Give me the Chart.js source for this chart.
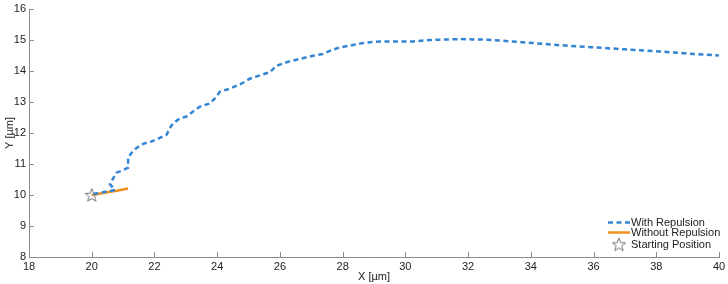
<!DOCTYPE html>
<html lang="en">
<head>
<meta charset="UTF-8">
<title>Trajectory</title>
<script src="https://cdn.jsdelivr.net/npm/chart.js@4.4.1/dist/chart.umd.min.js"></script>
<style>
  html, body { margin: 0; padding: 0; background: #fff; }
  #wrap { width: 728px; height: 284px; }
</style>
</head>
<body>
<div id="wrap"><canvas id="c"></canvas></div>
<script>
// data
const withX = [20.05, 20.74, 20.58, 20.79, 20.95, 21.16, 21.16, 21.27, 21.43, 21.64, 21.91, 22.17, 22.39, 22.49, 22.6, 22.81, 23.02, 23.29, 23.45, 23.76, 23.98, 24.08, 24.4, 24.77, 25.04, 25.36, 25.68, 25.89, 26.21, 26.63, 27.05, 27.37, 27.59, 27.9, 28.28, 28.75, 29.18, 30.24, 30.77, 31.76, 32.63, 33.72, 34.82, 35.9, 36.99, 38.09, 39.18, 40];
const withY = [10.03, 10.16, 10.35, 10.72, 10.78, 10.88, 11.2, 11.36, 11.52, 11.65, 11.73, 11.84, 11.95, 12.16, 12.32, 12.47, 12.53, 12.74, 12.85, 12.95, 13.17, 13.33, 13.43, 13.59, 13.75, 13.86, 13.96, 14.17, 14.28, 14.39, 14.49, 14.55, 14.65, 14.76, 14.83, 14.92, 14.95, 14.95, 15.0, 15.03, 15.01, 14.93, 14.84, 14.77, 14.7, 14.63, 14.55, 14.5];
const withoutX = [20.0, 20.4, 20.8, 21.16];
const withoutY = [10.0, 10.07, 10.14, 10.21];
const startX = [20.0];
const startY = [10.0];
const xTicks = [18, 20, 22, 24, 26, 28, 30, 32, 34, 36, 38, 40];
const yTicks = [8, 9, 10, 11, 12, 13, 14, 15, 16];
const labels = ['With Repulsion', 'Without Repulsion', 'Starting Position'];
const yTitle = 'Y [µm]';

const blue = '#3384d4';
const orange = '#f0901c';
const axisGrey = '#8c8c8c';
const font = { family: 'Liberation Sans, Arial, sans-serif', size: 11 };

function pts(xs, ys) {
    return xs.map(function (x, i) { return { x: x, y: ys[i] }; });
}

function starPath(ctx, cx, cy, r) {
    ctx.beginPath();
    for (let i = 0; i < 10; i++) {
        const rad = i % 2 === 0 ? r : r * 0.42;
        const a = -Math.PI / 2 + i * Math.PI / 5;
        const px = cx + rad * Math.cos(a), py = cy + rad * Math.sin(a);
        if (i === 0) ctx.moveTo(px, py); else ctx.lineTo(px, py);
    }
    ctx.closePath();
}

// star marker as an image for pointStyle
const starImg = document.createElement('canvas');
starImg.width = 16; starImg.height = 16;
(function () {
    const g = starImg.getContext('2d');
    starPath(g, 8, 8.6, 7);
    g.strokeStyle = '#777';
    g.lineWidth = 1;
    g.stroke();
})();

// inward tick marks, y title and legend in the lower right
const extras = {
    id: 'extras',
    afterDatasetsDraw: function (chart) {
        const ctx = chart.ctx;
        const xs = chart.scales.x, ys = chart.scales.y;
        const area = chart.chartArea;
        ctx.save();
        ctx.strokeStyle = axisGrey;
        ctx.lineWidth = 1;
        xTicks.forEach(function (v) {
            const px = Math.round(xs.getPixelForValue(v)) + 0.5;
            ctx.beginPath();
            ctx.moveTo(px, area.bottom);
            ctx.lineTo(px, area.bottom - 5);
            ctx.stroke();
        });
        yTicks.forEach(function (v) {
            const py = Math.round(ys.getPixelForValue(v)) + 0.5;
            ctx.beginPath();
            ctx.moveTo(area.left, py);
            ctx.lineTo(area.left + 5, py);
            ctx.stroke();
        });

        ctx.font = '11px ' + font.family;
        ctx.fillStyle = '#222';
        ctx.textBaseline = 'middle';
        ctx.textAlign = 'center';
        ctx.save();
        ctx.translate(10, (area.top + area.bottom) / 2);
        ctx.rotate(-Math.PI / 2);
        ctx.fillText(yTitle, 0, 0);
        ctx.restore();

        // legend
        const lx = 608, tx = 631;
        const rows = [222.5, 232.5, 245];
        ctx.textAlign = 'left';

        ctx.strokeStyle = blue;
        ctx.lineWidth = 2.5;
        ctx.setLineDash([5, 3.5]);
        ctx.beginPath(); ctx.moveTo(lx, rows[0]); ctx.lineTo(lx + 22, rows[0]); ctx.stroke();
        ctx.setLineDash([]);
        ctx.fillText(labels[0], tx, rows[0]);

        ctx.strokeStyle = orange;
        ctx.beginPath(); ctx.moveTo(lx, rows[1]); ctx.lineTo(lx + 22, rows[1]); ctx.stroke();
        ctx.fillText(labels[1], tx, rows[1]);

        ctx.drawImage(starImg, lx + 11 - 8, rows[2] - 8.6);
        ctx.fillText(labels[2], tx, rows[2]);
        ctx.restore();
    }
};

new Chart(document.getElementById('c'), {
    type: 'scatter',
    data: {
        datasets: [
            {
                label: labels[0],
                data: pts(withX, withY),
                showLine: true,
                borderColor: blue,
                borderWidth: 2.5,
                borderDash: [5, 3.5],
                pointRadius: 0,
                tension: 0
            },
            {
                label: labels[1],
                data: pts(withoutX, withoutY),
                showLine: true,
                borderColor: orange,
                borderWidth: 2.5,
                pointRadius: 0
            },
            {
                label: labels[2],
                data: pts(startX, startY),
                pointStyle: starImg,
                pointRadius: 8
            }
        ]
    },
    plugins: [extras],
    options: {
        responsive: true,
        maintainAspectRatio: false,
        animation: false,
        layout: { padding: { top: 3, right: 9, left: 0, bottom: 0 } },
        plugins: {
            legend: { display: false },
            tooltip: { enabled: false }
        },
        scales: {
            x: {
                type: 'linear',
                min: 18, max: 40,
                afterBuildTicks: function (s) { s.ticks = xTicks.map(function (v) { return { value: v }; }); },
                afterFit: function (s) { s.height = 27; s.paddingLeft = 0; s.paddingRight = 0; },
                grid: { display: false, drawTicks: false },
                border: { display: true, color: axisGrey, width: 1 },
                ticks: { font: font, color: '#222', padding: 3, maxRotation: 0 },
                title: { display: true, text: 'X [µm]', font: font, color: '#222', padding: 0 }
            },
            y: {
                type: 'linear',
                min: 8, max: 16,
                afterBuildTicks: function (s) { s.ticks = yTicks.map(function (v) { return { value: v }; }); },
                afterFit: function (s) { s.width = 29; s.paddingTop = 0; s.paddingBottom = 0; },
                grid: { display: false, drawTicks: false },
                border: { display: true, color: axisGrey, width: 1 },
                ticks: { font: font, color: '#222', padding: 3 }
            }
        }
    }
});
</script>
</body>
</html>
